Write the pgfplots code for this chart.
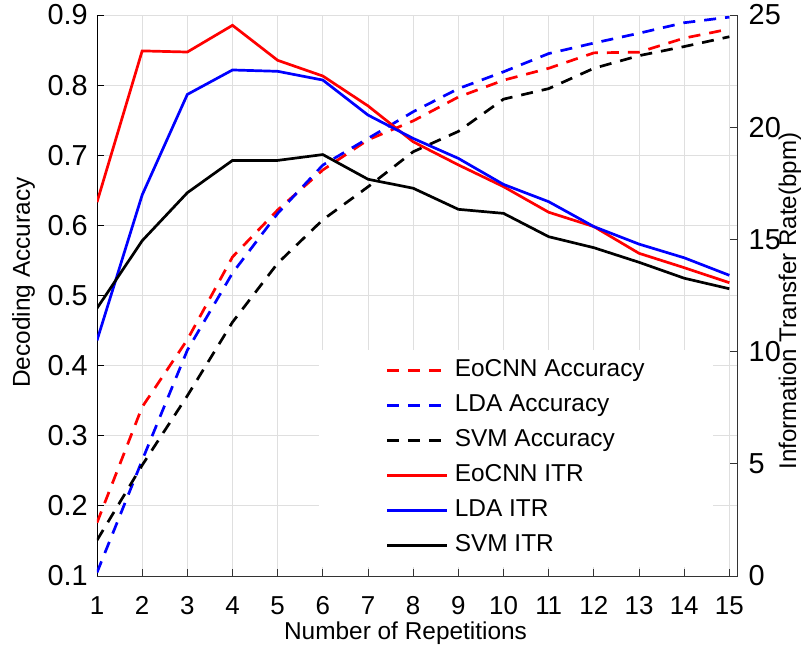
\documentclass[border=0pt]{standalone}
\usepackage{fontspec}
\setmainfont{Liberation Sans}
\usepackage{pgfplots}
\pgfplotsset{compat=1.18}
\definecolor{gridc}{gray}{0.875}
\definecolor{axc}{gray}{0.2}
\begin{document}
\begin{tikzpicture}
\useasboundingbox (-97bp,-72bp) rectangle (704bp,576bp);
\pgfplotsset{
  common/.style={
    scale only axis, width=640.5bp, height=561bp,
    at={(0,0)}, anchor=south west,
    xmin=1, xmax=15.18,
    /pgf/number format/assume math mode=true,
    tick align=inside,
    every tick/.style={line width=0.8bp},
  },
  dstyle/.style={line width=2.7bp, dash pattern=on 12bp off 9bp},
  sstyle/.style={line width=2.7bp},
}
\begin{axis}[common,
  ymin=0.1, ymax=0.9,
  ytick={0.1,0.2,...,0.9},
  yticklabels={0.1,0.2,0.3,0.4,0.5,0.6,0.7,0.8,0.9},
  xtick={1,...,15},
  axis x line*=bottom, axis y line*=left,
  x axis line style={axc, line width=0.8bp},
  y axis line style={black, line width=0.8bp},
  xtick style={axc}, ytick style={black},
  major tick length=7bp,
  grid=major,
  major grid style={gridc, line width=0.8bp},
  xticklabel style={font=\fontsize{26}{26}\selectfont, inner sep=0pt, anchor=north, yshift=-20bp},
  yticklabel style={font=\fontsize{29}{29}\selectfont, inner sep=0pt, anchor=east, xshift=-9bp},
  xlabel={Number of Repetitions},
  xlabel style={font=\fontsize{24.5}{24.5}\selectfont, at={(rel axis cs:0.4817,0)}, anchor=base, yshift=-63bp},
  ylabel={Decoding Accuracy},
  ylabel style={font=\fontsize{24.5}{24.5}\selectfont, at={(rel axis cs:0,0.523)}, anchor=base, yshift=67bp},
]
\addplot[red, dstyle] coordinates {
(1,0.176) (2,0.341) (3,0.437) (4,0.555) (5,0.622) (6,0.679) (7,0.722) (8,0.749)
(9,0.783) (10,0.807) (11,0.824) (12,0.846) (13,0.847) (14,0.867) (15,0.880)};
\addplot[blue, dstyle] coordinates {
(1,0.105) (2,0.265) (3,0.422) (4,0.532) (5,0.617) (6,0.686) (7,0.724) (8,0.762)
(9,0.795) (10,0.819) (11,0.845) (12,0.860) (13,0.874) (14,0.889) (15,0.897)};
\addplot[black, dstyle] coordinates {
(1,0.151) (2,0.258) (3,0.357) (4,0.462) (5,0.546) (6,0.608) (7,0.655) (8,0.705)
(9,0.734) (10,0.780) (11,0.795) (12,0.824) (13,0.842) (14,0.855) (15,0.869)};
\end{axis}
\begin{axis}[common,
  ymin=0, ymax=25,
  ytick={0,5,...,25},
  axis x line=none, axis y line*=right,
  y axis line style={axc, line width=0.8bp},
  ytick style={axc},
  major tick length=8bp,
  yticklabel style={font=\fontsize{29}{29}\selectfont, inner sep=0pt, anchor=west, xshift=11bp},
  ylabel={Information Transfer Rate(bpm)},
  ylabel style={font=\fontsize{24.2}{24.2}\selectfont, at={(rel axis cs:1,0.490)}, anchor=base, yshift=-58.5bp},
  legend style={
    at={(rel axis cs:0.9618,0.0161)}, anchor=south east,
    fill=white, draw=none, inner xsep=0pt, inner ysep=10bp,
    font=\fontsize{24.5}{26}\selectfont,
    row sep=13bp, column sep=0pt,
    nodes={inner sep=0pt, text height=17bp, text depth=5bp},
    cells={anchor=west},
  },
  legend image code/.code={\path (-67bp,0bp) (66bp,0bp); \draw[#1] (0bp,0bp) -- (60bp,0bp);},
]
\addlegendimage{red, dstyle}
\addlegendentry{\makebox[258bp][l]{EoCNN Accuracy}}
\addlegendimage{blue, dstyle}
\addlegendentry{\makebox[258bp][l]{LDA Accuracy}}
\addlegendimage{black, dstyle}
\addlegendentry{\makebox[258bp][l]{SVM Accuracy}}
\addplot[red, sstyle] coordinates {
(1,16.66) (2,23.40) (3,23.35) (4,24.54) (5,22.98) (6,22.28) (7,20.95) (8,19.35)
(9,18.32) (10,17.35) (11,16.21) (12,15.57) (13,14.38) (14,13.74) (15,13.07)};
\addlegendentry{\makebox[258bp][l]{EoCNN ITR}}
\addplot[blue, sstyle] coordinates {
(1,10.50) (2,16.98) (3,21.46) (4,22.55) (5,22.49) (6,22.10) (7,20.54) (8,19.50)
(9,18.61) (10,17.45) (11,16.68) (12,15.57) (13,14.79) (14,14.18) (15,13.40)};
\addlegendentry{\makebox[258bp][l]{LDA ITR}}
\addplot[black, sstyle] coordinates {
(1,11.93) (2,14.94) (3,17.08) (4,18.52) (5,18.52) (6,18.78) (7,17.68) (8,17.28)
(9,16.34) (10,16.16) (11,15.12) (12,14.63) (13,13.98) (14,13.27) (15,12.80)};
\addlegendentry{\makebox[258bp][l]{SVM ITR}}
\end{axis}
\end{tikzpicture}
\end{document}
